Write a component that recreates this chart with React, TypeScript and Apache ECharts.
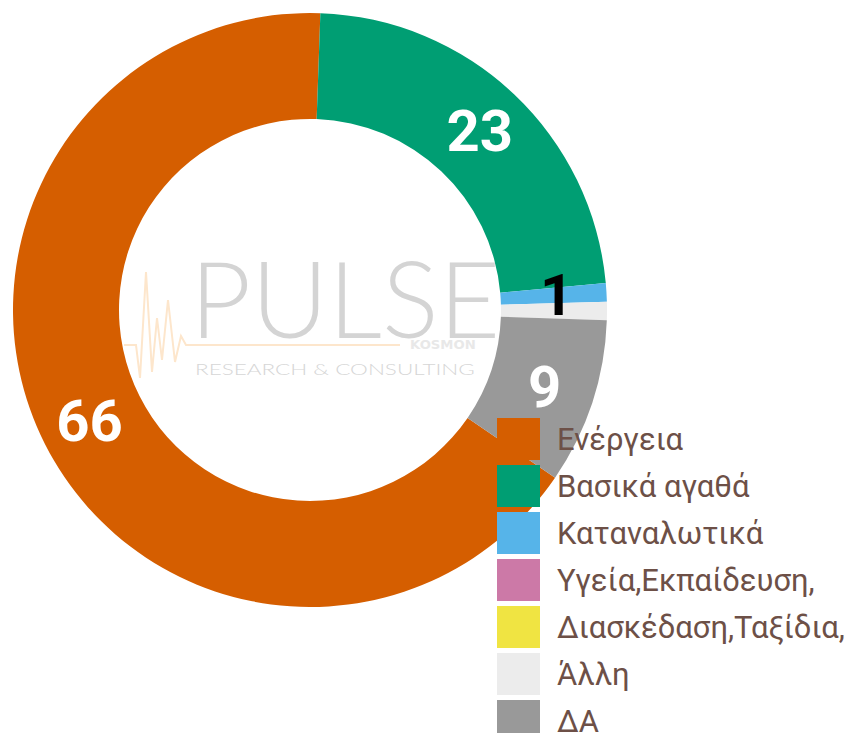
import React, { useEffect, useRef } from "react";
import * as echarts from "echarts";

const categories = [
  "Ενέργεια",
  "Βασικά αγαθά",
  "Καταναλωτικά",
  "Υγεία,Εκπαίδευση,",
  "Διασκέδαση,Ταξίδια,",
  "Άλλη",
  "ΔΑ",
];
const values = [66, 23, 1, 0, 0, 1, 9];
const colors = ["#d55e00", "#009e73", "#56b4e9", "#cc79a7", "#f0e442", "#ececec", "#999999"];
const labelColors = ["#ffffff", "#ffffff", "#000000", "#000000", "#000000", "#000000", "#ffffff"];

export default function App() {
  const ref = useRef<HTMLDivElement>(null);
  useEffect(() => {
    if (!ref.current) return;
    const chart = echarts.init(ref.current, null, { renderer: "svg" });
    const total = values.reduce((a, b) => a + b, 0);
    // the first slice ends just right of 12 o'clock (clockwise), the second begins there
    const startAngle = 88 + (values[0] / total) * 360;
    chart.setOption({
      animation: false,
      backgroundColor: "#ffffff",
      legend: {
        orient: "vertical",
        left: 497,
        top: 418,
        padding: 0,
        itemWidth: 43,
        itemHeight: 42,
        itemGap: 5,
        icon: "rect",
        data: categories,
        textStyle: {
          fontFamily: "Roboto",
          fontSize: 31,
          color: "#6d5047",
          padding: [0, 0, 0, 12],
        },
      },
      graphic: [
        {
          type: "polyline",
          z: 1,
          shape: {
            points: [
              [124, 345], [136, 345], [140, 378], [146, 272], [152, 372], [157, 318],
              [162, 360], [168, 300], [175, 362], [181, 336], [186, 345], [400, 345],
            ],
          },
          style: { stroke: "#fde6cc", lineWidth: 2, fill: null },
        },
        {
          type: "text",
          z: 1,
          x: 190,
          y: 244,
          style: {
            text: "PULSE",
            fontFamily: "Lato",
            fontWeight: 300,
            fontSize: 106,
            fill: "#d4d4d4",
          },
        },
        {
          type: "text",
          z: 1,
          x: 410,
          y: 339,
          scaleX: 1.1,
          style: {
            text: "KOSMON",
            fontFamily: "DejaVu Sans",
            fontWeight: "bold",
            fontSize: 12,
            fill: "#e8e8e8",
          },
        },
        {
          type: "text",
          z: 1,
          x: 195,
          y: 362,
          scaleX: 1.5,
          style: {
            text: "RESEARCH & CONSULTING",
            fontFamily: "Lato",
            fontWeight: 300,
            fontSize: 15,
            fill: "#d6d6d6",
          },
        },
      ],
      series: [
        {
          type: "pie",
          center: [310, 310],
          radius: [191, 297],
          startAngle,
          clockwise: true,
          avoidLabelOverlap: false,
          label: {
            show: true,
            position: "inside",
            formatter: "{c}",
            fontFamily: "Roboto",
            fontWeight: "bold",
            fontSize: 58,
          },
          labelLine: { show: false },
          emphasis: { disabled: true },
          data: categories.map((name, i) => ({
            name,
            value: values[i],
            itemStyle: { color: colors[i] },
            label: { show: values[i] > 0, color: labelColors[i] },
          })),
        },
      ],
    });
    return () => chart.dispose();
  }, []);
  return (
    <div
      ref={ref}
      style={{ position: "fixed", left: 0, top: 0, width: 860, height: 770 }}
    />
  );
}
